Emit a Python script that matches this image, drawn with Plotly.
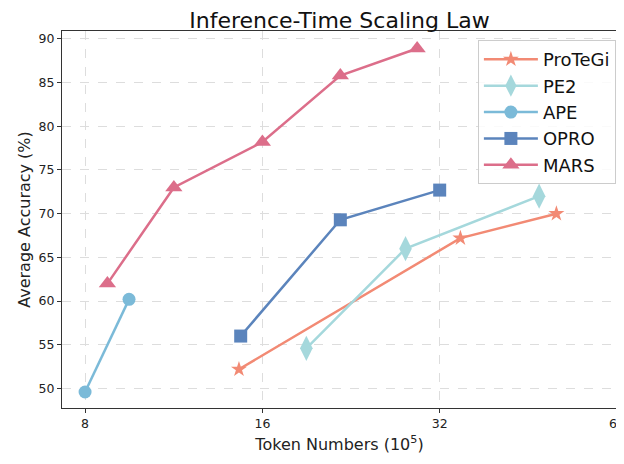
import plotly.graph_objects as go
import math

series_names = ["ProTeGi", "PE2", "APE", "OPRO", "MARS"]
protegi_x = [14.6, 34.7, 50.5]
protegi_y = [52.2, 67.2, 70.0]
pe2_x = [19.0, 28.0, 47.2]
pe2_y = [54.6, 66.0, 72.0]
ape_x = [8.0, 9.5]
ape_y = [49.6, 60.2]
opro_x = [14.7, 21.7, 32.0]
opro_y = [56.0, 69.3, 72.7]
mars_x = [8.73, 11.32, 16.0, 21.7, 29.3]
mars_y = [62.0, 73.0, 78.2, 85.8, 88.9]
x_ticks = [8, 16, 32, 64]
y_ticks = [50, 55, 60, 65, 70, 75, 80, 85, 90]

colors = ["#F28A74", "#A5D8DC", "#7BBAD8", "#5B84BC", "#DC6E8A"]
symbols = ["star", "diamond-tall", "circle", "square", "triangle-up"]
sizes = [12, 18, 13, 13, 15]
xs = [protegi_x, pe2_x, ape_x, opro_x, mars_x]
ys = [protegi_y, pe2_y, ape_y, opro_y, mars_y]

fig = go.Figure()
for name, x, y, c, s, sz in zip(series_names, xs, ys, colors, symbols, sizes):
    fig.add_trace(go.Scatter(
        x=x, y=y, name=name, mode="lines+markers",
        line=dict(color=c, width=2.5),
        marker=dict(symbol=s, size=sz, color=c, line=dict(width=0)),
    ))

font_family = "DejaVu Sans"
fig.update_layout(
    width=624, height=464,
    margin=dict(l=54, r=15, t=23, b=64, autoexpand=False),
    paper_bgcolor="white", plot_bgcolor="white",
    font=dict(family=font_family, color="#222222"),
    title=dict(text="Inference-Time Scaling Law", xref="paper", x=0.5, xanchor="center",
               yref="container", y=0.991, yanchor="top", pad=dict(t=0, b=0),
               font=dict(size=22, color="#111111")),
    legend=dict(x=0.998, y=0.976, xanchor="right", yanchor="top",
                font=dict(size=18, color="#111111"),
                bgcolor="rgba(255,255,255,0.85)", bordercolor="#CCCCCC",
                borderwidth=1, itemwidth=54, tracegroupgap=0),
    showlegend=True,
)
fig.update_xaxes(
    type="log", range=[math.log10(7.31), math.log10(64)],
    tickvals=x_ticks, ticktext=[str(v) for v in x_ticks],
    showgrid=True, gridcolor="#DDDDDD", griddash="dash", gridwidth=1,
    showline=True, linecolor="#333333", linewidth=1.2, mirror=True,
    ticks="outside", ticklen=4, tickcolor="#333333",
    tickfont=dict(size=12.5, color="#222222"),
    title=dict(text="Token Numbers (10<sup>5</sup>)", font=dict(size=16, color="#222222"), standoff=8),
    zeroline=False, automargin=False,
)
fig.update_yaxes(
    range=[47.77, 90.9], tickvals=y_ticks,
    showgrid=True, gridcolor="#DDDDDD", griddash="dash", gridwidth=1,
    showline=True, linecolor="#333333", linewidth=1.2, mirror=True,
    ticks="outside", ticklen=4, tickcolor="#333333",
    tickfont=dict(size=12.5, color="#222222"),
    title=dict(text="Average Accuracy (%)", font=dict(size=16, color="#222222"), standoff=3),
    zeroline=False, automargin=False,
)

fig.write_html("out.html")
